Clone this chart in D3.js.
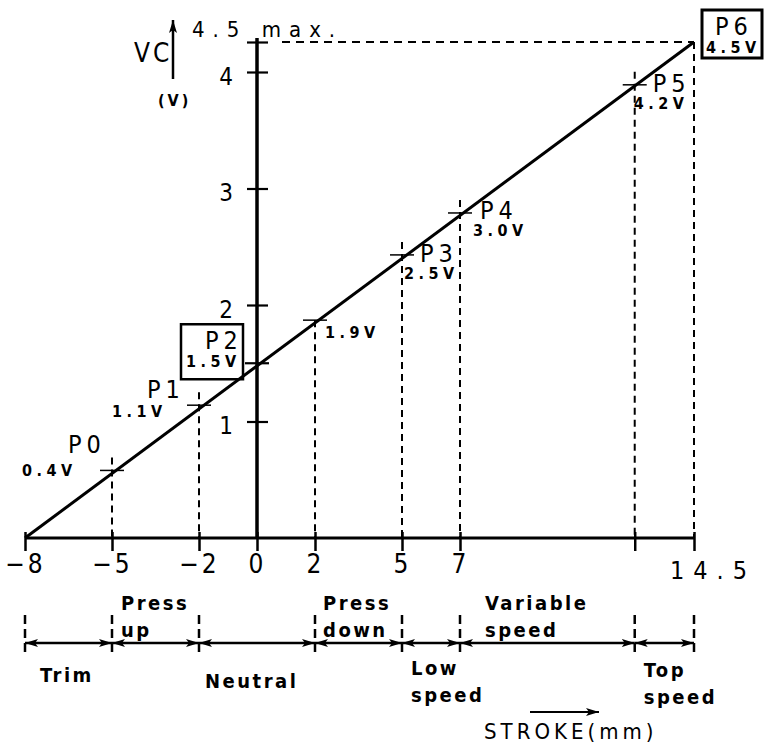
<!DOCTYPE html>
<html>
<head>
<meta charset="UTF-8">
<title>VC vs stroke</title>
<script src="https://d3js.org/d3.v7.min.js"></script>
<style>
  body { margin: 0; background: #fff; }
  text { font-family: "DejaVu Sans Condensed", "DejaVu Sans", sans-serif; fill: #000; }
</style>
</head>
<body>
<div id="chart"></div>
<script>
// stroke (mm) tick values and labels on the bottom axis
var strokeTicks = [-8, -5, -2, 0, 2, 5, 7];
var tickLabels = ["\u22128", "\u22125", "\u22122", "0", "2", "5", "7"];
var voltTicks = [1, 2, 3, 4];

// characteristic points: stroke, plotted height, label
var pointNames = ["P0", "P1", "P2", "", "P3", "P4", "P5", "P6"];
var pointStroke = [-5, -2, 0, 2, 5, 7, 12.6, 14.5];
var pointVolt = [0.58, 1.14, 1.50, 1.87, 2.43, 2.79, 3.89, 4.5];
var voltLabels = ["0.4V", "1.1V", "1.5V", "1.9V", "2.5V", "3.0V", "4.2V", "4.5V"];

// output line ends
var lineStroke = [-8, 14.5];
var lineVolt = [0, 4.5];

// stroke ranges along the bottom
var rangeBounds = [-8, -5, -2, 2, 5, 7, 12.6, 14.5];
var rangeNames = [["Trim"], ["Press", "up"], ["Neutral"], ["Press", "down"],
                  ["Low", "speed"], ["Variable", "speed"], ["Top", "speed"]];

var width = 764, height = 748;
var svg = d3.select("#chart").append("svg")
    .attr("width", width).attr("height", height);

var x = d3.scaleLinear().domain([-8, 7, 14.5]).range([25, 460, 694]);
var y = d3.scaleLinear().domain([0, 4, 4.5]).range([538, 72, 42]);

var defs = svg.append("defs");
defs.append("marker")
    .attr("id", "arr")
    .attr("markerUnits", "userSpaceOnUse")
    .attr("markerWidth", 14).attr("markerHeight", 10)
    .attr("refX", 13).attr("refY", 5)
    .attr("orient", "auto-start-reverse")
    .append("path")
    .attr("d", "M0,1 L13,5 L0,9 L3,5 Z")
    .attr("fill", "#000");

// ---- vertical dashed guides
var pts = pointStroke.map(function (s, i) {
    return { s: s, v: pointVolt[i], name: pointNames[i], volt: voltLabels[i] };
});

svg.append("g").selectAll("line")
    .data(pts.filter(function (d) { return d.s !== 0; }))
    .enter().append("line")
    .attr("x1", function (d) { return x(d.s); })
    .attr("x2", function (d) { return x(d.s); })
    .attr("y1", function (d) { return y(d.v) - (d.name === "P6" || d.name === "" ? 0 : 13); })
    .attr("y2", y(0))
    .attr("stroke", "#000")
    .attr("stroke-width", 2)
    .attr("stroke-dasharray", "7,5");

// dashed line at 4.5 max
svg.append("line")
    .attr("x1", x(0) + 25).attr("x2", x(14.5))
    .attr("y1", y(4.5)).attr("y2", y(4.5))
    .attr("stroke", "#000").attr("stroke-width", 1.8)
    .attr("stroke-dasharray", "8,6");

// ---- axes
var xAxis = d3.axisBottom(x)
    .tickValues(strokeTicks.concat([12.6, 14.5]))
    .tickFormat(function (d) {
        var i = strokeTicks.indexOf(d);
        return i >= 0 ? tickLabels[i] : "";
    })
    .tickSize(12);

var gx = svg.append("g")
    .attr("transform", "translate(0," + y(0) + ")")
    .call(xAxis);
gx.select(".domain").remove();
gx.selectAll(".tick line")
    .attr("y1", -6).attr("y2", 13)
    .attr("stroke", "#000").attr("stroke-width", 2.5);
gx.selectAll(".tick text")
    .attr("y", 35).attr("dy", 0)
    .attr("font-size", 26)
    .attr("letter-spacing", 3)
    .attr("fill", "#000");

svg.append("line")
    .attr("x1", x(-8)).attr("x2", x(14.5))
    .attr("y1", y(0)).attr("y2", y(0))
    .attr("stroke", "#000").attr("stroke-width", 3);

svg.append("text")
    .attr("x", x(14.5) - 24).attr("y", y(0) + 41)
    .attr("font-size", 25)
    .attr("letter-spacing", 9)
    .text("14.5");

var yAxis = d3.axisLeft(y)
    .tickValues(voltTicks.concat([4.5]))
    .tickFormat(function (d) { return voltTicks.indexOf(d) >= 0 ? d : ""; })
    .tickSize(10)
    .tickPadding(14);

var gy = svg.append("g")
    .attr("transform", "translate(" + x(0) + ",0)")
    .call(yAxis);
gy.select(".domain").remove();
gy.selectAll(".tick line")
    .attr("x1", -10).attr("x2", 11)
    .attr("stroke", "#000").attr("stroke-width", 2.2);
gy.selectAll(".tick text")
    .attr("dy", 0).attr("y", 12)
    .attr("font-size", 24)
    .attr("fill", "#000");

svg.append("line")
    .attr("x1", x(0)).attr("x2", x(0))
    .attr("y1", y(0)).attr("y2", y(4.5) - 4)
    .attr("stroke", "#000").attr("stroke-width", 3.5);

// ---- output line
var line = d3.line()
    .x(function (d) { return x(d[0]); })
    .y(function (d) { return y(d[1]); });

svg.append("path")
    .datum(lineStroke.map(function (s, i) { return [s, lineVolt[i]]; }))
    .attr("d", line)
    .attr("fill", "none")
    .attr("stroke", "#000")
    .attr("stroke-width", 3);

// crosses at points
svg.append("g").selectAll("line")
    .data(pts.filter(function (d) { return d.name !== "P6"; }))
    .enter().append("line")
    .attr("x1", function (d) { return x(d.s) - 12; })
    .attr("x2", function (d) { return x(d.s) + 12; })
    .attr("y1", function (d) { return y(d.v); })
    .attr("y2", function (d) { return y(d.v); })
    .attr("stroke", "#000")
    .attr("stroke-width", function (d) { return d.s === 0 ? 2.2 : 1.5; });

// ---- point labels (offsets from the point)
var labelPos = [
    { nx: -44, ny: -17, vx: -90, vy: 6 },
    { nx: -52, ny: -7, vx: -87, vy: 12 },
    { nx: -52, ny: -14, vx: -71, vy: 4 },
    { nx: 0, ny: 0, vx: 10, vy: 18 },
    { nx: 18, ny: 7, vx: 2, vy: 24 },
    { nx: 20, ny: 6, vx: 13, vy: 23 },
    { nx: 18, ny: 7, vx: -1, vy: 24 },
    { nx: 21, ny: -7, vx: 12, vy: 11 }
];

pts.forEach(function (d, i) {
    var px = x(d.s), py = y(d.v), p = labelPos[i];
    if (d.name) {
        svg.append("text")
            .attr("x", px + p.nx).attr("y", py + p.ny)
            .attr("font-size", 25)
            .attr("letter-spacing", 5)
            .text(d.name);
    }
    svg.append("text")
        .attr("x", px + p.vx).attr("y", py + p.vy)
        .attr("font-size", 16)
        .attr("font-weight", "bold")
        .attr("letter-spacing", 4.5)
        .text(d.volt);
});

// boxes round P2 and P6
svg.append("rect")
    .attr("x", x(0) - 76).attr("y", y(1.5) - 39)
    .attr("width", 62).attr("height", 55)
    .attr("fill", "none").attr("stroke", "#000").attr("stroke-width", 2.5);
svg.append("rect")
    .attr("x", x(14.5) + 8).attr("y", y(4.5) - 32)
    .attr("width", 60).attr("height", 48)
    .attr("fill", "none").attr("stroke", "#000").attr("stroke-width", 3);

// ---- y title
svg.append("text")
    .attr("x", 134).attr("y", 62)
    .attr("font-size", 26)
    .attr("letter-spacing", 3)
    .text("VC");
svg.append("line")
    .attr("x1", 173).attr("x2", 173)
    .attr("y1", 79).attr("y2", 20)
    .attr("stroke", "#000").attr("stroke-width", 2.5)
    .attr("marker-end", "url(#arr)");
svg.append("text")
    .attr("x", 158).attr("y", 106)
    .attr("font-size", 16)
    .attr("font-weight", "bold")
    .attr("letter-spacing", 3)
    .text("(V)");
svg.append("text")
    .attr("x", 192).attr("y", 37)
    .attr("font-size", 22)
    .attr("letter-spacing", 8)
    .text("4.5 max.");

// ---- stroke ranges bar
var barY = 643;
svg.append("g").selectAll("line")
    .data(rangeBounds)
    .enter().append("line")
    .attr("x1", function (d) { return x(d); })
    .attr("x2", function (d) { return x(d); })
    .attr("y1", barY - 28).attr("y2", barY + 14)
    .attr("stroke", "#000").attr("stroke-width", 2.5)
    .attr("stroke-dasharray", "9,5");

svg.append("g").selectAll("line")
    .data(d3.pairs(rangeBounds))
    .enter().append("line")
    .attr("x1", function (d) { return x(d[0]); })
    .attr("x2", function (d) { return x(d[1]); })
    .attr("y1", barY).attr("y2", barY)
    .attr("stroke", "#000").attr("stroke-width", 2.5)
    .attr("marker-start", "url(#arr)")
    .attr("marker-end", "url(#arr)");

// label placement for each range (offset from its left bound, baseline of first line)
var rangePos = [
    { dx: 15, y: 682 },
    { dx: 9, y: 610 },
    { dx: 6, y: 688 },
    { dx: 8, y: 610 },
    { dx: 9, y: 675 },
    { dx: 25, y: 610 },
    { dx: 9, y: 677 }
];
rangeNames.forEach(function (lines, i) {
    var t = svg.append("text")
        .attr("x", x(rangeBounds[i]) + rangePos[i].dx)
        .attr("y", rangePos[i].y)
        .attr("font-size", 20)
        .attr("font-weight", "bold")
        .attr("letter-spacing", 2.5);
    lines.forEach(function (s, j) {
        t.append("tspan")
            .attr("x", x(rangeBounds[i]) + rangePos[i].dx)
            .attr("dy", j === 0 ? 0 : 27)
            .text(s);
    });
});

// stroke title
svg.append("line")
    .attr("x1", 530).attr("x2", 599)
    .attr("y1", 712).attr("y2", 712)
    .attr("stroke", "#000").attr("stroke-width", 2)
    .attr("marker-end", "url(#arr)");
svg.append("text")
    .attr("x", 484).attr("y", 739)
    .attr("font-size", 22)
    .attr("letter-spacing", 4)
    .text("STROKE(mm)");
</script>
</body>
</html>
